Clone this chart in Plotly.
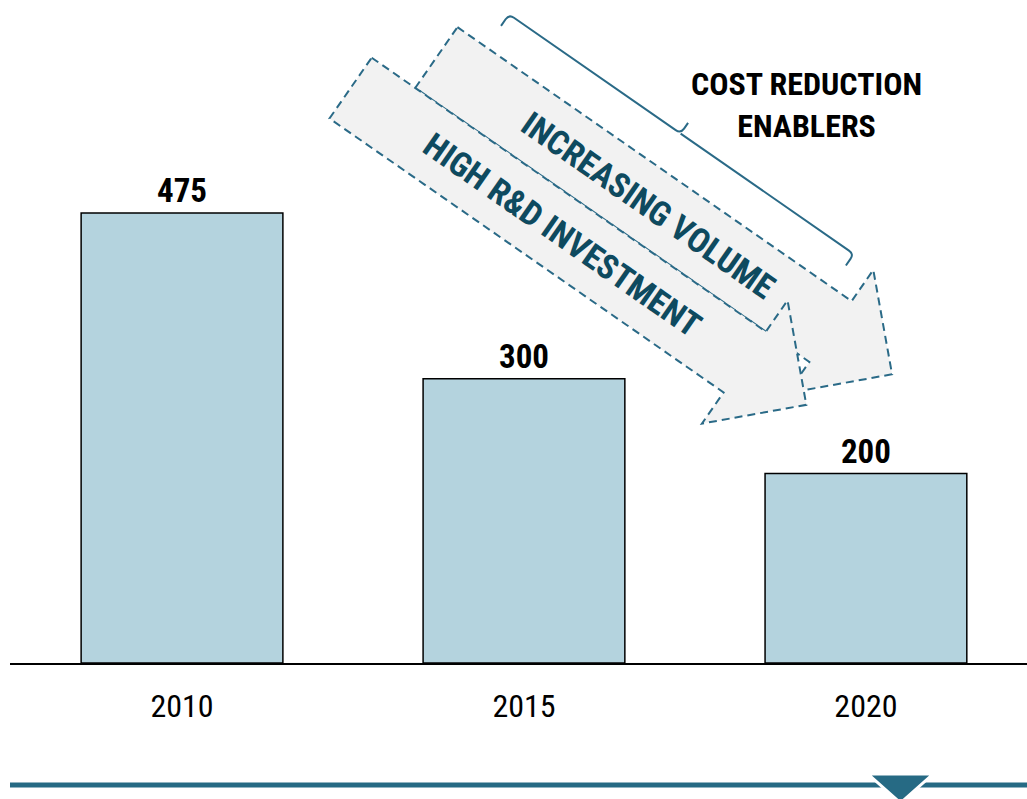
import math
import plotly.graph_objects as go

# ---------------- data ----------------
years = ["2010", "2015", "2020"]
costs = [475, 300, 200]
enablers = ["INCREASING VOLUME", "HIGH R&D INVESTMENT"]
bracket_title = ["COST REDUCTION", "ENABLERS"]

# ---------------- style ----------------
W, H = 1027, 799
ML, MR, MT, MB = 10, 0, 0, 136
PW, PH = W - ML - MR, H - MT - MB
NARROW = "Liberation Sans Narrow, Arial Narrow, Roboto Condensed, sans-serif"
BAR_FILL = "#b4d3de"
TEAL = "#2a6a87"
DARK_TEAL = "#0e4a5f"
ARROW_FILL = "#f2f2f2"


def pp(x, y):
    """pixel -> paper coordinates"""
    return (x - ML) / PW, (H - MB - y) / PH


def path(points, close=True):
    s = ""
    for i, (x, y) in enumerate(points):
        a, b = pp(x, y)
        s += ("M" if i == 0 else "L") + f"{a:.5f},{b:.5f} "
    return s + ("Z" if close else "")


# arrow geometry (pixel space)
theta = math.radians(34.8)
u = (math.cos(theta), math.sin(theta))      # along arrow
n = (-math.sin(theta), math.cos(theta))     # across arrow (towards lower-left)


def add(p, *terms):
    x, y = p
    for k, v in terms:
        x += k * v[0]
        y += k * v[1]
    return (x, y)


SHAFT_W, SHAFT_L, BARB, HEAD_L = 74, 480, 38, 75
tail_B = (371.7, 57.7)
tail_A = add(tail_B, (53, u), (-SHAFT_W, n))


def arrow_pts(T):
    s1 = add(T, (SHAFT_L, u))
    return [
        T,
        s1,
        add(s1, (-BARB, n)),
        add(T, (SHAFT_L + HEAD_L, u), (SHAFT_W / 2, n)),
        add(s1, (SHAFT_W + BARB, n)),
        add(s1, (SHAFT_W, n)),
        add(T, (SHAFT_W, n)),
    ]


fig = go.Figure()
fig.add_trace(go.Bar(
    x=list(range(len(years))), y=costs, width=0.59,
    marker=dict(color=BAR_FILL, line=dict(color="black", width=1.5)),
    text=[str(v) for v in costs], textposition="outside", cliponaxis=False,
    textfont=dict(family=NARROW, size=33, color="black", weight="bold"),
    hoverinfo="skip",
))

shapes = []
for T in (tail_A, tail_B):
    shapes.append(dict(type="path", xref="paper", yref="paper", path=path(arrow_pts(T)),
                       fillcolor=ARROW_FILL, line=dict(color=TEAL, width=2, dash="8px,5px")))

# bracket
c0 = add(tail_A, (35, u), (-40, n))
c1 = add(tail_A, (455, u), (-40, n))
mid = add(tail_A, (244, u), (-40, n))
def P(p):
    a, b = pp(*p)
    return f"{a:.5f},{b:.5f}"
r = 6
bp = (
    f"M{P(add(c0, (14, n)))} L{P(add(c0, (r, n)))} Q{P(c0)} {P(add(c0, (r, u)))} "
    f"L{P(add(mid, (-r, u)))} Q{P(mid)} {P(add(mid, (-r, n)))} L{P(add(mid, (-13, n)))} "
    f"M{P(mid)} L{P(add(c1, (-r, u)))} Q{P(c1)} {P(add(c1, (r, n)))} L{P(add(c1, (14, n)))}"
)
shapes.append(dict(type="path", xref="paper", yref="paper", path=bp,
                   line=dict(color=TEAL, width=2)))

# bottom rule + marker triangle
a0, yb = pp(ML, 785)
a1, _ = pp(W, 785)
shapes.append(dict(type="line", xref="paper", yref="paper", x0=a0, x1=a1, y0=yb, y1=yb,
                   line=dict(color="#266a84", width=5)))
shapes.append(dict(type="path", xref="paper", yref="paper",
                   path=path([(868, 774), (933, 774), (900.5, 803)]),
                   fillcolor="#266a84", line=dict(color="white", width=3)))

annotations = []
for T, label in zip((tail_A, tail_B), enablers):
    cx, cy = pp(*add(T, (258, u), (SHAFT_W / 2, n)))
    annotations.append(dict(x=cx, y=cy, xref="paper", yref="paper", text=label, showarrow=False,
                            textangle=34.8, xanchor="center", yanchor="middle",
                            font=dict(family=NARROW, size=34, color=DARK_TEAL, weight="bold")))
cx, cy = pp(806, 105)
annotations.append(dict(x=cx, y=cy, xref="paper", yref="paper", text="<br>".join(bracket_title),
                        showarrow=False, xanchor="center", yanchor="middle", align="center",
                        font=dict(family=NARROW, size=32, color="black", weight="bold")))

fig.update_layout(
    width=W, height=H, margin=dict(l=ML, r=MR, t=MT, b=MB),
    paper_bgcolor="white", plot_bgcolor="white", showlegend=False,
    shapes=shapes, annotations=annotations,
    xaxis=dict(range=[-0.503, 2.471], tickvals=list(range(len(years))), ticktext=years,
               showgrid=False, zeroline=False, showline=True, linecolor="black", linewidth=2,
               ticks="outside", ticklen=14, tickcolor="rgba(0,0,0,0)",
               tickfont=dict(family=NARROW, size=32, color="black")),
    yaxis=dict(range=[0, 700], visible=False),
)
fig.write_html("out.html")
